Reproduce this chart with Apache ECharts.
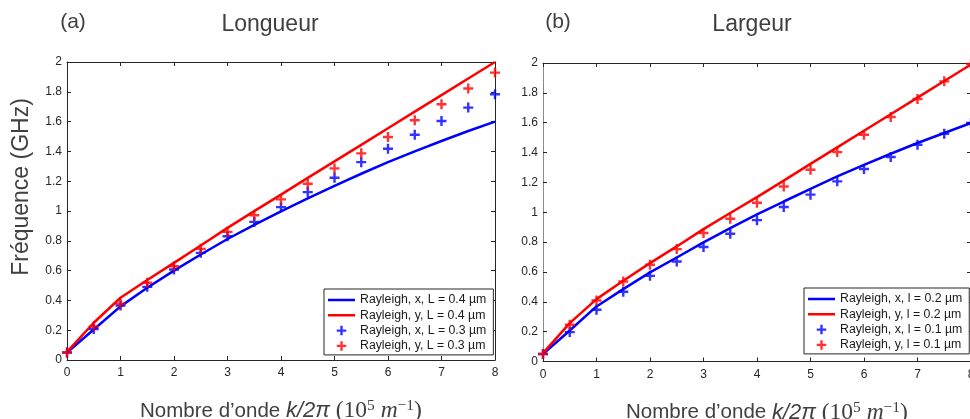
<!DOCTYPE html>
<html>
<head>
<meta charset="utf-8">
<script src="https://cdn.jsdelivr.net/npm/echarts@6/dist/echarts.min.js"></script>
<style>html,body{margin:0;padding:0;background:#fff;}#c{width:970px;height:419px;}</style>
</head>
<body>
<div id="c"></div>
<script>
// ---- data ----
const waveNumbers = [0, 0.5, 1, 1.5, 2, 2.5, 3, 3.5, 4, 4.5, 5, 5.5, 6, 6.5, 7, 7.5, 8];
const xTicks = [0, 1, 2, 3, 4, 5, 6, 7, 8];
const yTicks = [0, 0.2, 0.4, 0.6, 0.8, 1, 1.2, 1.4, 1.6, 1.8, 2];

// (a) Longueur
const longBlueLine = [0.05, 0.205, 0.36, 0.485, 0.600, 0.708, 0.812, 0.907, 0.998, 1.084, 1.168, 1.250, 1.328, 1.400, 1.470, 1.537, 1.600];
const longRedLine  = [0.055, 0.250, 0.418, 0.537, 0.652, 0.768, 0.887, 0.999, 1.110, 1.222, 1.333, 1.444, 1.555, 1.667, 1.778, 1.889, 2.000];
const longBlueMark = [0.05, 0.208, 0.365, 0.491, 0.607, 0.719, 0.831, 0.927, 1.026, 1.127, 1.223, 1.328, 1.418, 1.512, 1.604, 1.694, 1.784];
const longRedMark  = [0.05, 0.226, 0.378, 0.518, 0.629, 0.746, 0.860, 0.971, 1.078, 1.183, 1.286, 1.387, 1.497, 1.609, 1.716, 1.822, 1.929];

// (b) Largeur
const largBlueLine = [0.05, 0.208, 0.369, 0.485, 0.597, 0.697, 0.798, 0.894, 0.985, 1.072, 1.157, 1.240, 1.318, 1.392, 1.464, 1.531, 1.598];
const largRedLine  = [0.056, 0.257, 0.418, 0.541, 0.659, 0.771, 0.887, 0.995, 1.101, 1.212, 1.324, 1.435, 1.546, 1.657, 1.768, 1.879, 1.990];
const largBlueMark = [0.05, 0.197, 0.347, 0.467, 0.574, 0.670, 0.767, 0.856, 0.947, 1.035, 1.118, 1.207, 1.290, 1.370, 1.452, 1.526, 1.598];
const largRedMark  = [0.05, 0.246, 0.409, 0.536, 0.648, 0.753, 0.861, 0.956, 1.064, 1.173, 1.285, 1.403, 1.519, 1.638, 1.759, 1.877, 1.993];

const namesA = ['Rayleigh, x, L = 0.4 µm', 'Rayleigh, y, L = 0.4 µm', 'Rayleigh, x, L = 0.3 µm', 'Rayleigh, y, L = 0.3 µm'];
const namesB = ['Rayleigh, x, l = 0.2 µm', 'Rayleigh, y, l = 0.2 µm', 'Rayleigh, x, l = 0.1 µm', 'Rayleigh, y, l = 0.1 µm'];
const panelTitles = ['Longueur', 'Largeur'];
const panelTags = ['(a)', '(b)'];
const yAxisTitle = 'Fréquence (GHz)';

// ---- styling ----
const FONT = 'Liberation Sans, Arial, sans-serif';
const SERIF = 'Liberation Serif, serif';
const BLUE = '#0000ff', RED = '#ff0000', AX = '#262626', TXT = '#404040';
const plusPath = 'path://M3.8,0H6.2V3.8H10V6.2H6.2V10H3.8V6.2H0V3.8H3.8Z';
const legendLineIcon = 'path://M0,0L0,0ZM27,12L27,12ZM0,4.75H27V7.25H0Z';
const legendPlusIcon = 'path://M0,0L0,0ZM27,12L27,12ZM12.3,1.25H14.7V4.8H18.25V7.2H14.7V10.75H12.3V7.2H8.75V4.8H12.3Z';

const pairs = arr => waveNumbers.map((x, i) => [x, arr[i]]);
const fmtY = v => String(+(+v).toFixed(1));

const xName = 'Nombre d’onde {it|k/2π} {m|(10}{sup|5}{m| }{mi|m}{sup|−1}{m|)}';
const xNameStyle = (shift) => ({
  fontFamily: FONT, fontSize: 20.5, color: TXT, lineHeight: 26,
  padding: [0, 0, 0, shift],
  rich: {
    it: {fontFamily: FONT, fontSize: 22, fontStyle: 'italic', color: TXT, lineHeight: 26},
    m: {fontFamily: SERIF, fontSize: 23.5, color: TXT, lineHeight: 26},
    mi: {fontFamily: SERIF, fontSize: 23.5, fontStyle: 'italic', color: TXT, lineHeight: 26},
    sup: {fontFamily: SERIF, fontSize: 15.5, color: TXT, verticalAlign: 'top', lineHeight: 15}
  }
});

const grids = [
  {left: 67, top: 62, width: 428, height: 298, containLabel: false, outerBoundsMode: 'none'},
  {left: 543, top: 63, width: 428, height: 298.5, containLabel: false, outerBoundsMode: 'none'}
];

function mainX(gi, shift) {
  return {
    type: 'value', gridIndex: gi, position: 'bottom', min: 0, max: 8, interval: 1,
    axisLine: {show: true, onZero: false, lineStyle: {color: AX, width: 1}},
    axisTick: {show: true, inside: true, length: 4, lineStyle: {color: AX}},
    axisLabel: {show: true, margin: 7, fontFamily: FONT, fontSize: 12, color: AX,
      formatter: v => String(xTicks.includes(+v) ? +v : v)},
    splitLine: {show: false},
    name: xName, nameLocation: 'middle', nameGap: 38, nameTextStyle: xNameStyle(shift)
  };
}
function topX(gi) {
  return {
    type: 'value', gridIndex: gi, position: 'top', min: 0, max: 8, interval: 1,
    axisLine: {show: true, onZero: false, lineStyle: {color: AX, width: 1}},
    axisTick: {show: true, inside: true, length: 4, lineStyle: {color: AX}},
    axisLabel: {show: false}, splitLine: {show: false}
  };
}
function mainY(gi, lineColor) {
  return {
    type: 'value', gridIndex: gi, position: 'left', min: 0, max: 2, interval: 0.2,
    axisLine: {show: true, onZero: false, lineStyle: {color: lineColor, width: 1}},
    axisTick: {show: true, inside: true, length: 4, lineStyle: {color: AX}},
    axisLabel: {show: true, margin: 5, fontFamily: FONT, fontSize: 12, color: AX, formatter: fmtY},
    splitLine: {show: false}
  };
}
function rightY(gi) {
  return {
    type: 'value', gridIndex: gi, position: 'right', min: 0, max: 2, interval: 0.2,
    axisLine: {show: true, onZero: false, lineStyle: {color: AX, width: 1}},
    axisTick: {show: true, inside: true, length: 4, lineStyle: {color: AX}},
    axisLabel: {show: false}, splitLine: {show: false}
  };
}

function lineSeries(name, data, color, xi, yi) {
  return {type: 'line', name, xAxisIndex: xi, yAxisIndex: yi, data: pairs(data),
    symbol: 'none', showSymbol: false, smooth: false, clip: true,
    lineStyle: {color, width: 2.5}, itemStyle: {color}, z: 2};
}
function markSeries(name, data, color, xi, yi) {
  return {type: 'scatter', name, xAxisIndex: xi, yAxisIndex: yi, data: pairs(data),
    symbol: plusPath, symbolSize: 10, itemStyle: {color}, z: 3, clip: false};
}

function legendFor(names, left, top) {
  return {
    orient: 'vertical', left, top, padding: [5, 7, 3, 4], itemGap: 3.3,
    itemWidth: 27, itemHeight: 12, selectedMode: false,
    backgroundColor: '#ffffff', borderColor: AX, borderWidth: 1, borderRadius: 0,
    itemStyle: {borderWidth: 0},
    textStyle: {fontFamily: FONT, fontSize: 12.3, color: '#1a1a1a', lineHeight: 12},
    data: [
      {name: names[0], icon: legendLineIcon},
      {name: names[1], icon: legendLineIcon},
      {name: names[2], icon: legendPlusIcon},
      {name: names[3], icon: legendPlusIcon}
    ]
  };
}

const txt = (text, x, y, size, rotation) => ({
  type: 'text', x, y, rotation: rotation || 0, silent: true,
  style: {text, fill: TXT, font: size + 'px ' + FONT, align: 'center', textAlign: 'center',
    verticalAlign: 'middle', textVerticalAlign: 'middle'}
});

const option = {
  animation: false,
  backgroundColor: '#ffffff',
  grid: grids,
  xAxis: [mainX(0, 0), topX(0), mainX(1, 20), topX(1)],
  yAxis: [mainY(0, AX), rightY(0), mainY(1, '#8a8a8a'), rightY(1)],
  legend: [legendFor(namesA, 324, 289), legendFor(namesB, 804, 288)],
  graphic: [
    txt(panelTags[0], 73, 22, 21),
    txt(panelTitles[0], 270, 25, 23),
    txt(panelTags[1], 558, 22, 21),
    txt(panelTitles[1], 752, 25, 23),
    txt(yAxisTitle, 22, 187, 23, Math.PI / 2)
  ],
  series: [
    lineSeries(namesA[0], longBlueLine, BLUE, 0, 0),
    lineSeries(namesA[1], longRedLine, RED, 0, 0),
    markSeries(namesA[2], longBlueMark, BLUE, 0, 0),
    markSeries(namesA[3], longRedMark, RED, 0, 0),
    lineSeries(namesB[0], largBlueLine, BLUE, 2, 2),
    lineSeries(namesB[1], largRedLine, RED, 2, 2),
    markSeries(namesB[2], largBlueMark, BLUE, 2, 2),
    markSeries(namesB[3], largRedMark, RED, 2, 2)
  ]
};

const chart = echarts.init(document.getElementById('c'), null, {renderer: 'canvas'});
chart.setOption(option);
</script>
</body>
</html>
